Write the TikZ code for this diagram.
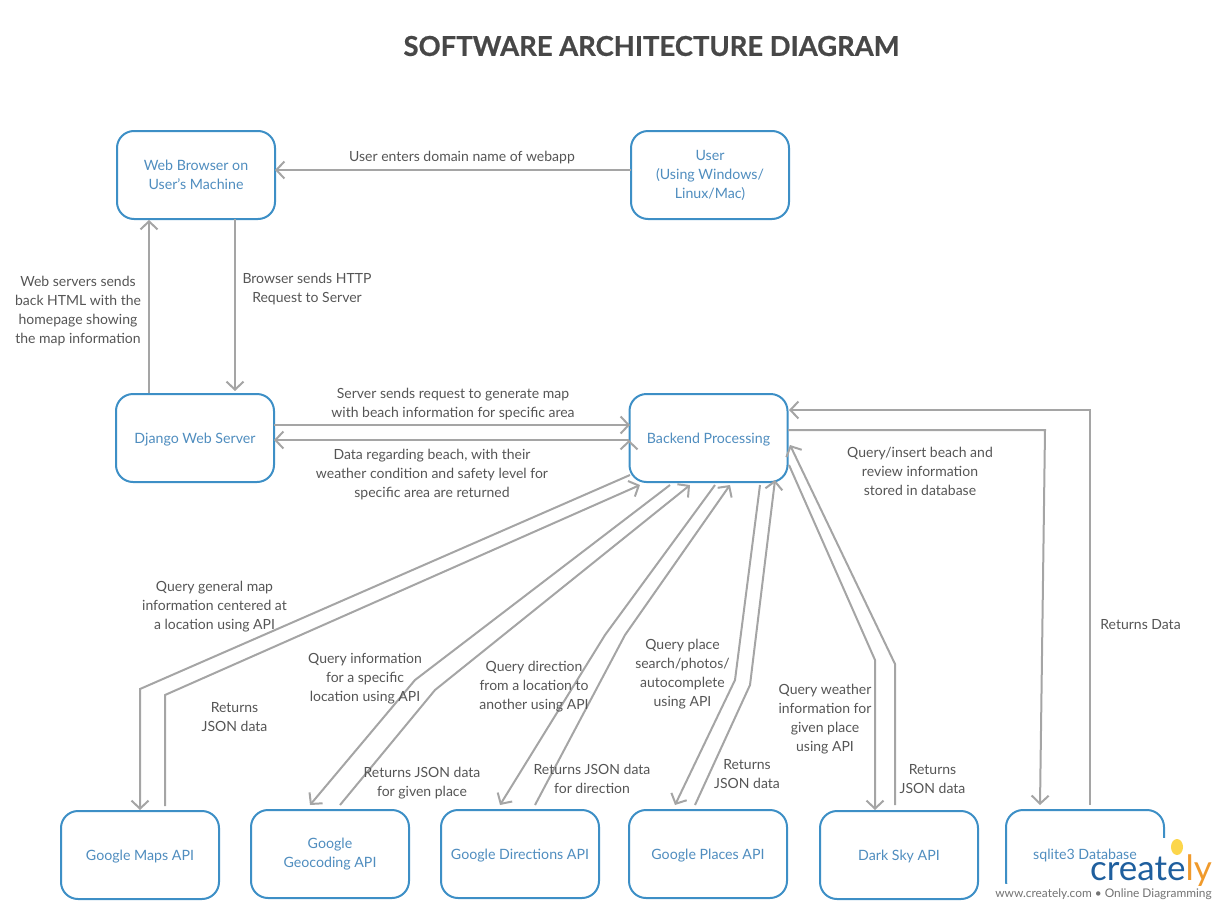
\documentclass[tikz,border=0pt]{standalone}
\usepackage{fontspec}
\setmainfont{Lato}
\newfontfamily\titlefont[BoldFeatures={FakeBold=0.6}]{Lato}
\usetikzlibrary{arrows.meta}
\definecolor{boxblue}{HTML}{3D8FC6}
\definecolor{boxtext}{HTML}{4F8DBF}
\definecolor{linkgray}{HTML}{A5A5A5}
\definecolor{labeltext}{HTML}{555555}
\begin{document}
\begin{tikzpicture}[x=1pt,y=-1pt,
  box/.style={draw=boxblue,line width=2pt,rounded corners=17pt,fill=white,minimum width=158pt,minimum height=88pt,
    text=boxtext,align=center,font=\fontsize{14.2}{19}\selectfont,execute at begin node=\rule{0pt}{14pt}},
  lbl/.style={text=labeltext,align=center,inner sep=0pt,yshift=-1.5pt,font=\fontsize{14}{19}\selectfont},
  link/.style={draw=linkgray,line width=2pt,->,>={Straight Barb[length=8pt,width=17pt]}}]
\useasboundingbox (0,0) rectangle (1225,910);
\node[font=\titlefont\bfseries\fontsize{27.4}{32}\selectfont,text=black!72] (title) at (651.5,46) {SOFTWARE ARCHITECTURE DIAGRAM};

\node[box] (web)     at (196,175)   {Web Browser on\\User's Machine};
\node[box] (user)    at (710,175)   {User\\(Using Windows/\\Linux/Mac)};
\node[box] (django)  at (195,438)   {Django Web Server};
\node[box] (backend) at (708.5,438) {Backend Processing};
\node[box] (maps)    at (140,855)   {Google Maps API};
\node[box] (geo)     at (330,854)   {Google\\Geocoding API};
\node[box] (dirs)    at (520,854)   {Google Directions API};
\node[box] (places)  at (708,854)   {Google Places API};
\node[box] (sky)     at (899,855)   {Dark Sky API};
\node[box] (sqlite)  at (1085,854)  {sqlite3 Database};

\coordinate (mapsa) at (140,689);   \coordinate (mapsb) at (165,695);
\coordinate (geoa)  at (415,680);   \coordinate (geob)  at (435,690);
\coordinate (dirsa) at (605,635);   \coordinate (dirsb) at (625,635);
\coordinate (placa) at (735,680);   \coordinate (placb) at (750,685);
\coordinate (skya)  at (875,660);   \coordinate (skyb)  at (895,664);
\coordinate (sqla)  at (1045,430);  \coordinate (sqlb)  at (1090,410);

\path[link]
([shift={(-79,-5)}]user.center) edge ([shift={(79,-5)}]web.center)
([shift={(39,44)}]web.center) edge ([shift={(40,-47)}]django.center)
([shift={(-46,-45)}]django.center) edge ([shift={(-47,45)}]web.center)
([shift={(79,-13)}]django.center) edge ([shift={(-78.5,-13)}]backend.center)
([shift={(-79.5,2)}]backend.center) edge ([shift={(79,2)}]django.center)
;
\draw[link] ([shift={(-78.5,37)}]backend.center) -- (mapsa) -- ([shift={(0,-45)}]maps.center);
\draw[link] ([shift={(25,-49)}]maps.center) -- (mapsb) -- ([shift={(-68.5,47)}]backend.center);
\draw[link] ([shift={(-38.5,47)}]backend.center) -- (geoa) -- ([shift={(-20,-49)}]geo.center);
\draw[link] ([shift={(10,-49)}]geo.center) -- (geob) -- ([shift={(-18.5,47)}]backend.center);
\draw[link] ([shift={(6.5,47)}]backend.center) -- (dirsa) -- ([shift={(-20,-49)}]dirs.center);
\draw[link] ([shift={(15,-49)}]dirs.center) -- (dirsb) -- ([shift={(21.5,47)}]backend.center);
\draw[link] ([shift={(51.5,47)}]backend.center) -- (placa) -- ([shift={(-33,-49)}]places.center);
\draw[link] ([shift={(-13,-49)}]places.center) -- (placb) -- ([shift={(66.5,42)}]backend.center);
\draw[link] ([shift={(80.5,27)}]backend.center) -- (skya) -- ([shift={(-24,-45)}]sky.center);
\draw[link] ([shift={(-4,-50)}]sky.center) -- (skyb) -- ([shift={(81.5,7)}]backend.center);
\draw[link] ([shift={(79.5,-8)}]backend.center) -- (sqla) -- ([shift={(-45,-49)}]sqlite.center);
\draw[link] ([shift={(5,-49)}]sqlite.center) -- (sqlb) -- ([shift={(80.5,-28)}]backend.center);

\node[lbl] (lbluser) at (462,156)     {User enters domain name of webapp};
\node[lbl] (lblhttp) at (307,287.5)   {Browser sends HTTP\\Request to Server};
\node[lbl] (lblhome) at (78,309.5)    {Web servers sends\\back HTML with the\\homepage showing\\the map information};
\node[lbl] (lblreq)  at (453,403)     {Server sends request to generate map\\with beach information for specific area};
\node[lbl] (lblbeach) at (432,473)    {Data regarding beach, with their\\weather condition and safety level for\\specific area are returned};
\node[lbl] (lblins)  at (920,470)     {Query/insert beach and\\review information\\stored in database};
\node[lbl] (lbldata) at (1140.5,623)  {Returns Data};
\node[lbl] (lblmapsq) at (214.5,605)  {Query general map\\information centered at\\a location using API};
\node[lbl] (lblmapsr) at (234.5,715.5) {Returns\\JSON data};
\node[lbl] (lblgeoq) at (365,677)     {Query information\\for a specific\\location using API};
\node[lbl] (lblgeor) at (422,782)     {Returns JSON data\\for given place};
\node[lbl] (lbldirq) at (534,685)     {Query direction\\from a location to\\another using API};
\node[lbl] (lbldirr) at (592,777)     {Returns JSON data\\for direction};
\node[lbl] (lblplaq) at (682.5,672.5) {Query place\\search/photos/\\autocomplete\\using API};
\node[lbl] (lblplar) at (747,772.5)   {Returns\\JSON data};
\node[lbl] (lblskyq) at (825,717.5)   {Query weather\\information for\\given place\\using API};
\node[lbl] (lblskyr) at (932.5,777.5) {Returns\\JSON data};

% watermark sits on a white patch
\fill[white] (995,884) rectangle (1225,910) (1158,838) rectangle (1225,884);
\node[inner sep=0pt,font=\fontsize{35}{35}\selectfont] (logo) at (1151,871)
  {\textcolor[HTML]{1F5F9E}{create}\textcolor[HTML]{F09A2B}{ly}};
\fill[yellow!60!orange!70] (1177,847) ellipse (6pt and 8pt);
\node[inner sep=0pt,text=black!55,font=\fontsize{11.9}{14}\selectfont] (site) at (1103.5,894) {www.creately.com • Online Diagramming};
\end{tikzpicture}
\end{document}
